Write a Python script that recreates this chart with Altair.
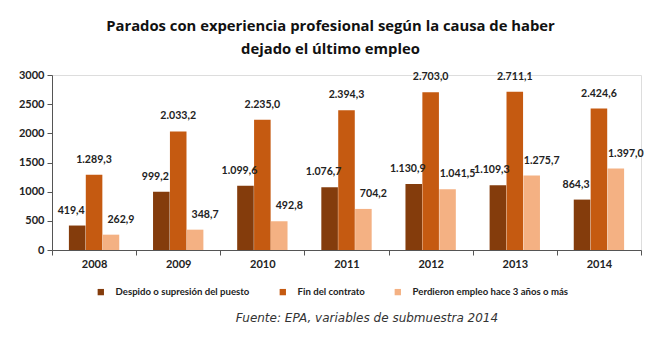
import altair as alt
import pandas as pd

years = ["2008", "2009", "2010", "2011", "2012", "2013", "2014"]
series = ["Despido o supresión del puesto", "Fin del contrato", "Perdieron empleo hace 3 años o más"]
despido = [419.4, 999.2, 1099.6, 1076.7, 1130.9, 1109.3, 864.3]
fin = [1289.3, 2033.2, 2235.0, 2394.3, 2703.0, 2711.1, 2424.6]
perdieron = [262.9, 348.7, 492.8, 704.2, 1041.5, 1275.7, 1397.0]
colors = ["#843C0C", "#C55A11", "#F4B183"]


def es_fmt(v):
    s = f"{v:,.1f}"
    return s.replace(",", "X").replace(".", ",").replace("X", ".")


rows = []
for vals, s in zip([despido, fin, perdieron], series):
    for y, v in zip(years, vals):
        rows.append({"year": y, "serie": s, "value": v, "label": es_fmt(v)})
df = pd.DataFrame(rows)

FONT = "Lato"

x_enc = alt.X("year:N", title=None,
              scale=alt.Scale(paddingInner=0, paddingOuter=0),
              axis=alt.Axis(labelAngle=0, labelFont=FONT, labelFontWeight="bold", labelFontSize=11,
                            labelColor="#222", tickBand="extent", domainColor="#555", tickColor="#555",
                            tickSize=5, labelPadding=3))
xo_enc = alt.XOffset("serie:N", sort=series, scale=alt.Scale(paddingInner=0.02, paddingOuter=1))
y_enc = alt.Y("value:Q", title=None,
              scale=alt.Scale(domain=[0, 3000], nice=False),
              axis=alt.Axis(values=[0, 500, 1000, 1500, 2000, 2500, 3000], grid=False, format="d",
                            labelOverlap=False,
                            labelFont=FONT, labelFontWeight="bold", labelFontSize=11, labelColor="#222",
                            domainColor="#555", tickColor="#555", tickSize=5, labelPadding=3))

base = alt.Chart(df)

bars = base.mark_bar().encode(
    x=x_enc, xOffset=xo_enc, y=y_enc,
    color=alt.Color("serie:N", sort=series, title=None,
                    scale=alt.Scale(domain=series, range=colors),
                    legend=alt.Legend(orient="none", legendX=44, legendY=212, direction="horizontal",
                                      symbolType="square", symbolSize=40, symbolStrokeWidth=0,
                                      labelFont=FONT, labelFontWeight="bold", labelFontSize=9.6,
                                      labelColor="#222", columnPadding=28, labelOffset=10)),
)

dxs = [-6, 0, 10]
texts = []
for s, dx in zip(series, dxs):
    texts.append(
        base.transform_filter(alt.datum.serie == s).mark_text(
            font=FONT, fontWeight="bold", fontSize=10.6, color="#222", dy=-10, dx=dx, baseline="bottom"
        ).encode(x=x_enc, xOffset=xo_enc, y=y_enc, text="label:N")
    )

footer = alt.Chart(pd.DataFrame({"t": ["Fuente: EPA, variables de submuestra 2014"]})).mark_text(
    font="DejaVu Sans", fontStyle="italic", fontSize=12, color="#333", baseline="middle", align="center"
).encode(x=alt.value(315), y=alt.value(243), text="t:N")

chart = alt.layer(bars, *texts, footer).properties(
    width=589, height=175,
    title=alt.TitleParams(
        ["Parados con experiencia profesional según la causa de haber", "dejado el último empleo"],
        font="Open Sans", fontSize=14.8, fontWeight="bold", color="#111", anchor="middle",
        dx=-16, offset=12, lineHeight=23,
    ),
    autosize=alt.AutoSizeParams(type="none"),
    padding={"left": 52, "top": 75, "right": 19, "bottom": 98},
).configure_view(stroke=None).configure(background="white")

chart.save("out.html", embed_options={"renderer": "svg", "actions": False})
